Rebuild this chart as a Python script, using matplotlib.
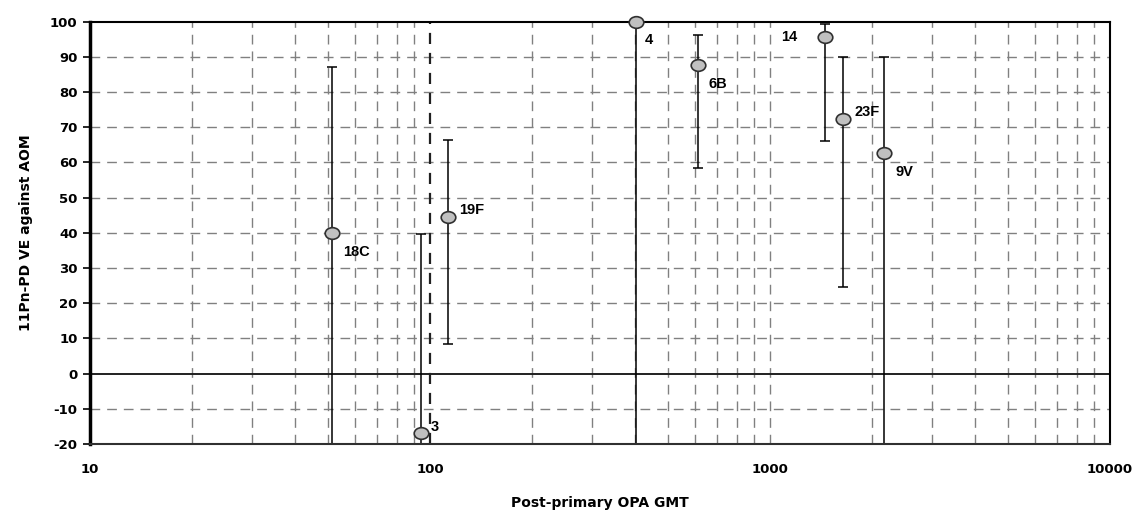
import matplotlib
matplotlib.use("Agg")
import matplotlib.pyplot as plt
from matplotlib.ticker import LogLocator, FixedLocator, NullFormatter, FixedFormatter
from matplotlib.path import Path
from matplotlib.transforms import Affine2D
import numpy as np

plt.rcParams["axes.unicode_minus"] = False

# Data
serotypes = ["18C", "3", "19F", "4", "6B", "14", "23F", "9V"]
gmt = [51.5, 94, 113, 404, 612, 1455, 1644, 2168]
ve = [40, -17, 44.5, 100, 87.7, 95.6, 72.3, 62.7]
ci_low = [-30, -30, 8.3, -30, 58.3, 66, 24.7, -30]
ci_high = [87, 39.7, 66.3, 100, 96.3, 99.4, 89.9, 90]
label_offsets = {"18C": (8, -14), "3": (7, 5), "19F": (8, 5), "4": (6, -13),
                 "6B": (8, -14), "14": (-32, 0), "23F": (8, 5), "9V": (8, -14)}
x_ticks = [10, 100, 1000, 10000]
y_ticks = list(range(-20, 101, 10))

fig = plt.figure(figsize=(11.37, 5.11), dpi=100)
ax = fig.add_axes([0.0792, 0.1311, 0.8971, 0.8264])
ax.set_xscale("log")
ax.set_xlim(10, 10000)
ax.set_ylim(-20, 100)

grid_kw = dict(color="#808080", linewidth=1.0, linestyle=(0, (7, 5)), zorder=0)
for dec in [10, 100, 1000]:
    for m in range(2, 10):
        ax.axvline(dec * m, **grid_kw)
ax.axvline(1000, **grid_kw)
ax.axvline(100, color="#202020", linewidth=1.6, linestyle=(0, (5, 4)), zorder=0.5)
for y in y_ticks:
    if y not in (0, -20, 100):
        ax.axhline(y, **grid_kw)
ax.axhline(0, color="#202020", linewidth=1.4, zorder=1)

yerr = [np.array(ve) - np.array(ci_low), np.array(ci_high) - np.array(ve)]
ax.errorbar(gmt, ve, yerr=yerr, fmt="none", ecolor="black", elinewidth=1.1,
            capsize=3.5, capthick=1.1, zorder=2)
ellipse = Path.unit_circle().transformed(Affine2D().scale(1.0, 0.8))
ax.plot(gmt, ve, linestyle="none", marker=ellipse, markersize=10.5,
        markerfacecolor="#c0c0c0", markeredgecolor="#303030",
        markeredgewidth=1.2, zorder=3, clip_on=False)

for s, x, y in zip(serotypes, gmt, ve):
    dx, dy = label_offsets[s]
    ax.annotate(s, (x, y), xytext=(dx, dy), textcoords="offset points",
                fontsize=10.5, fontweight="bold", family="Liberation Sans",
                va="center", ha="left", zorder=4)

ax.xaxis.set_major_locator(FixedLocator(x_ticks))
ax.xaxis.set_major_formatter(FixedFormatter([str(t) for t in x_ticks]))
ax.xaxis.set_minor_locator(LogLocator(base=10, subs=np.arange(2, 10)))
ax.xaxis.set_minor_formatter(NullFormatter())
ax.tick_params(axis="x", which="both", length=0, pad=14)
ax.set_yticks(y_ticks)
ax.tick_params(axis="y", length=5, width=1.2, pad=4)
for lbl in ax.get_xticklabels() + ax.get_yticklabels():
    lbl.set_fontweight("bold")
    lbl.set_fontsize(9.5)
    lbl.set_family("DejaVu Sans")

ax.spines["left"].set_linewidth(2.5)
ax.spines["bottom"].set_linewidth(1.5)
ax.spines["bottom"].set_color("#303030")
ax.spines["top"].set_linewidth(1.5)
ax.spines["right"].set_linewidth(1.5)

ax.set_xlabel("Post-primary OPA GMT", fontsize=10, fontweight="bold", labelpad=14)
ax.set_ylabel("11Pn-PD VE against AOM", fontsize=10, fontweight="bold", labelpad=12)

fig.savefig("out.png", dpi=100)
